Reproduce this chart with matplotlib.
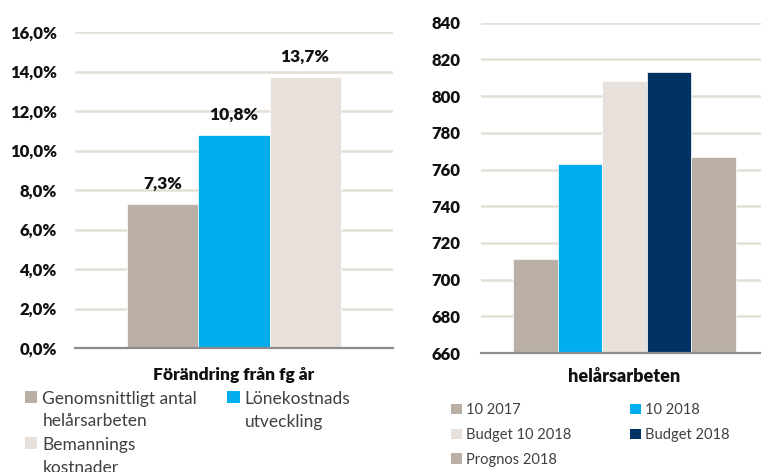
import matplotlib
matplotlib.use("Agg")
import matplotlib.pyplot as plt
from matplotlib.patches import Patch
from matplotlib.ticker import FuncFormatter
from matplotlib.offsetbox import HPacker, VPacker

# ---- data ----
left_categories = ["Genomsnittligt antal\nhelårsarbeten", "Lönekostnads\nutveckling", "Bemannings\nkostnader"]
left_values = [7.3, 10.8, 13.7]
left_xlabel = "Förändring från fg år"

right_categories = ["10 2017", "10 2018", "Budget 10 2018", "Budget 2018", "Prognos 2018"]
right_values = [711, 763, 808, 813, 767]
right_xlabel = "helårsarbeten"

left_colors = ["#B9AFA5", "#00ADEF", "#E8E1DB"]
right_colors = ["#B9AFA5", "#00ADEF", "#E8E1DB", "#003263", "#B9AFA5"]

plt.rcParams['font.family'] = ['Lato', 'DejaVu Sans']

W, H = 761, 472
fig = plt.figure(figsize=(W / 100, H / 100), dpi=100)

def rect(l, r, b, t):
    return [l / W, 1 - b / H, (r - l) / W, (b - t) / H]

grid_color = "#E4DED7"
axis_color = "#8C8C8C"
BOLD = "heavy"

def style(ax, pad):
    for s in ["top", "right", "left"]:
        ax.spines[s].set_visible(False)
    ax.spines["bottom"].set_color(axis_color)
    ax.spines["bottom"].set_linewidth(1.6)
    ax.tick_params(axis="both", length=0)
    ax.tick_params(axis="y", pad=pad, labelsize=12, labelcolor="#111111")
    for lab in ax.get_yticklabels():
        lab.set_fontweight(BOLD)
    ax.set_xticks([])
    ax.yaxis.grid(True, color=grid_color, linewidth=1.8)
    ax.set_axisbelow(True)

def top_align(leg):
    def walk(box):
        if isinstance(box, HPacker):
            box.align = "top"
        for c in getattr(box, "get_children", lambda: [])():
            if isinstance(c, (HPacker, VPacker)):
                walk(c)
    walk(leg._legend_handle_box)

# ---- left chart ----
ax1 = fig.add_axes(rect(75, 393, 348, 32))
n = len(left_values)
bw = 0.67 / n
xs = [-(n - 1) / 2 * bw + i * bw for i in range(n)]
ax1.bar(xs, left_values, width=bw, color=left_colors, edgecolor="white", linewidth=0.5)
ax1.set_xlim(-0.5, 0.5)
ax1.set_ylim(0, 16)
ax1.set_yticks(range(0, 17, 2))
ax1.yaxis.set_major_formatter(FuncFormatter(lambda v, p: f"{v:.1f}%".replace(".", ",")))
style(ax1, 13)
for x, v in zip(xs, left_values):
    ax1.annotate(f"{v:.1f}%".replace(".", ","), (x, v), xytext=(0, 9), textcoords="offset points",
                 ha="center", va="bottom", fontsize=12.5, fontweight=BOLD, color="#111111")
ax1.set_xlabel(left_xlabel, fontsize=12.5, fontweight=BOLD, labelpad=14, color="#111111")

order = [0, 2, 1]
h1 = [Patch(facecolor=left_colors[i]) for i in order]
l1 = [left_categories[i] for i in order]
leg1 = fig.legend(h1, l1, loc="upper left", bbox_to_anchor=(25 / W, 1 - 391 / H), ncol=2, frameon=False,
                  fontsize=12.5, handlelength=0.7, handleheight=0.7, handletextpad=0.3,
                  columnspacing=1.75, borderpad=0, borderaxespad=0, labelspacing=0.45,
                  labelcolor="#404040")
for t in leg1.get_texts():
    t.set_linespacing(1.5)
top_align(leg1)

# ---- right chart ----
ax2 = fig.add_axes(rect(481, 768, 353, 22.7))
n2 = len(right_values)
bw2 = 0.777 / n2
xs2 = [-(n2 - 1) / 2 * bw2 + i * bw2 for i in range(n2)]
ax2.bar(xs2, right_values, width=bw2, color=right_colors, edgecolor="white", linewidth=0.5)
ax2.set_xlim(-0.5, 0.5)
ax2.set_ylim(660, 840)
ax2.set_yticks(range(660, 841, 20))
style(ax2, 14.5)
ax2.set_xlabel(right_xlabel, fontsize=13, fontweight=BOLD, labelpad=10.5, color="#111111")

order2 = [0, 2, 4, 1, 3]
h2 = [Patch(facecolor=right_colors[i]) for i in order2]
l2 = [right_categories[i] for i in order2]
fig.legend(h2, l2, loc="upper left", bbox_to_anchor=(451 / W, 1 - 403 / H), ncol=2, frameon=False,
           fontsize=10.5, handlelength=0.75, handleheight=0.75, handletextpad=0.3,
           columnspacing=4.0, borderpad=0, borderaxespad=0, labelspacing=0.75,
           labelcolor="#404040")

fig.savefig("out.png", dpi=100)
